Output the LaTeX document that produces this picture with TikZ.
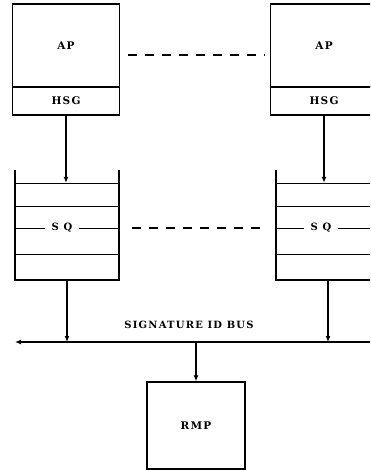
\documentclass[tikz,border=0pt]{standalone}
\usepackage{fontspec}
\setmainfont{DejaVu Serif}[LetterSpace=12]
\usetikzlibrary{arrows.meta,positioning}

\tikzset{
  box/.style={draw, line width=1.3pt, inner sep=0pt, font=\bfseries\fontsize{10.5}{12}\selectfont},
  flow/.style={line width=1.3pt, -{Latex[length=6pt,width=5pt]}},
  link/.style={line width=1.5pt, dash pattern=on 9pt off 8pt},
  label/.style={inner sep=0pt, font=\bfseries\fontsize{10}{12}\selectfont},
}

\begin{document}
\begin{tikzpicture}[x=1pt,y=-1pt]
  \useasboundingbox (0,0) rectangle (370,471);
  \clip (0,0) rectangle (370,471);
  %
  \node[box, minimum width=107pt, minimum height=83pt] (ap1) at (66,45.5) {AP};
  \node[box, minimum width=107pt, minimum height=28pt, below=-1.3pt of ap1] (hsg1) {HSG};
  \node[box, minimum width=107pt, minimum height=83pt] (ap2) at (324,45.5) {AP};
  \node[box, minimum width=107pt, minimum height=28pt, below=-1.3pt of ap2] (hsg2) {HSG};
  \draw[link, shorten <=8pt, shorten >=5pt] ([yshift=-9.5pt]ap1.east) -- ([yshift=-9.5pt]ap2.west);
  %
  \foreach \x in {15,276} {
    \draw[line width=1.3pt] (\x,170) -- (\x,280) -- (\x+104,280) -- (\x+104,170);
    \foreach \y in {183,206,254}
      \draw[line width=1pt] (\x,\y) -- (\x+104,\y);
  }
  \node[minimum width=104pt, minimum height=97pt] (q1) at (67,231.5) {};
  \node[minimum width=104pt, minimum height=97pt] (q2) at (328,231.5) {};
  \node[label, inner xsep=6pt] (sq1) at (62,228) {S Q};
  \node[label, inner xsep=6pt] (sq2) at (321,228) {S Q};
  \draw[line width=1pt] (q1.west |- sq1) -- (sq1.west) (sq1.east) -- (q1.east |- sq1);
  \draw[line width=1pt] (q2.west |- sq2) -- (sq2.west) (sq2.east) -- (q2.east |- sq2);
  \draw[link, shorten <=13pt, shorten >=10pt] (q1.east |- sq1) -- (q2.west |- sq2);
  %
  \draw[flow] (hsg1.south) -- (hsg1.south |- q1.north);
  \draw[flow] (hsg2.south) -- (hsg2.south |- q2.north);
  %
  \coordinate (busR) at (370,342);
  \coordinate (busL) at (15,342);
  \draw[line width=1.7pt, -{Latex[length=6pt,width=5pt]}] (busR) -- (busL);
  \node[label] (busname) at (189,325) {SIGNATURE ID BUS};
  \draw[flow] (q1.south) -- (q1.south |- busL);
  \draw[flow] (q2.south) -- (q2.south |- busR);
  %
  \node[box, minimum width=98pt, minimum height=87pt] (rmp) at (196,425.5) {RMP};
  \draw[flow] (rmp.north |- busL) -- (rmp.north);
  %
\end{tikzpicture}
\end{document}
